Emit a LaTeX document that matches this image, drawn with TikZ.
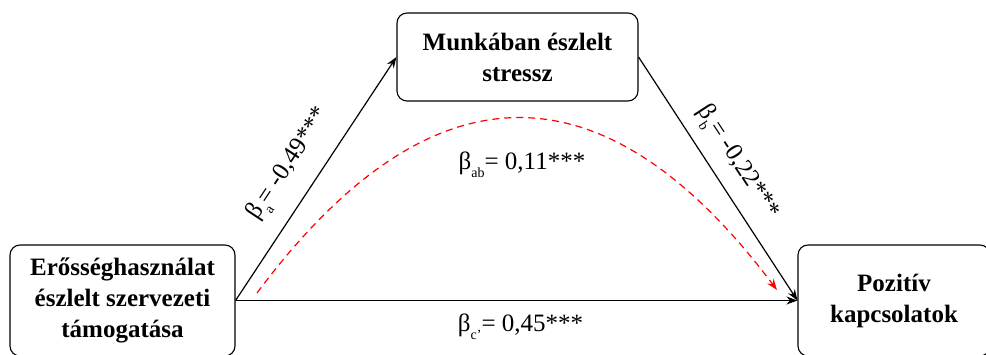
\documentclass[tikz,border=0pt]{standalone}
\usepackage{fontspec}
\setmainfont{Liberation Serif}
\usetikzlibrary{arrows.meta}
\newcommand\bsub[1]{\raisebox{-0.32em}{\fontsize{14pt}{14pt}\selectfont #1}}
\tikzset{
  box/.style={draw, rounded corners=10pt, line width=1.1pt, align=center,
    font=\fontsize{25pt}{31pt}\selectfont\bfseries, inner sep=0pt},
  conn/.style={line width=1.2pt, -{Stealth[length=11pt,width=8pt]}},
  indirect/.style={line width=1.2pt, red, dash pattern=on 7pt off 5pt,
    -{Stealth[length=11pt,width=8pt]}},
  coef/.style={font=\fontsize{25pt}{30pt}\selectfont, inner sep=0pt}
}
\begin{document}
\begin{tikzpicture}[x=1pt,y=1pt]
\useasboundingbox (0,0) rectangle (986,355);
\clip (0,0) rectangle (986,355);
\node[box, minimum width=225pt, minimum height=111pt] (x) at (122.5,54.5)
  {Erősséghasználat\\észlelt szervezeti\\támogatása};
\node[box, minimum width=241pt, minimum height=88pt] (m) at (517.5,298)
  {Munkában észlelt\\stressz};
\node[box, minimum width=192pt, minimum height=111pt] (y) at (894,54.5)
  {Pozitív\\kapcsolatok};
\draw[conn] (x.east) -- node[coef, sloped, pos=0.49, yshift=30pt] (la) {β\bsub{a}= -0,49***} (m.west);
\draw[conn] (m.east) -- node[coef, sloped, pos=0.49, yshift=25pt] (lb) {β\bsub{b}= -0,22***} (y.west);
\draw[conn] (x.east) -- node[coef, pos=0.5, xshift=4pt, yshift=-26pt] (lc) {β\bsub{c’}= 0,45***} (y.west);
\coordinate (s) at (257,62);
\coordinate (e) at (777,65);
\draw[indirect] (s) .. controls (430,294) and (604,295) .. (e);
\node[coef] (lab) at (522,190) {β\bsub{ab}= 0,11***};
\end{tikzpicture}
\end{document}
